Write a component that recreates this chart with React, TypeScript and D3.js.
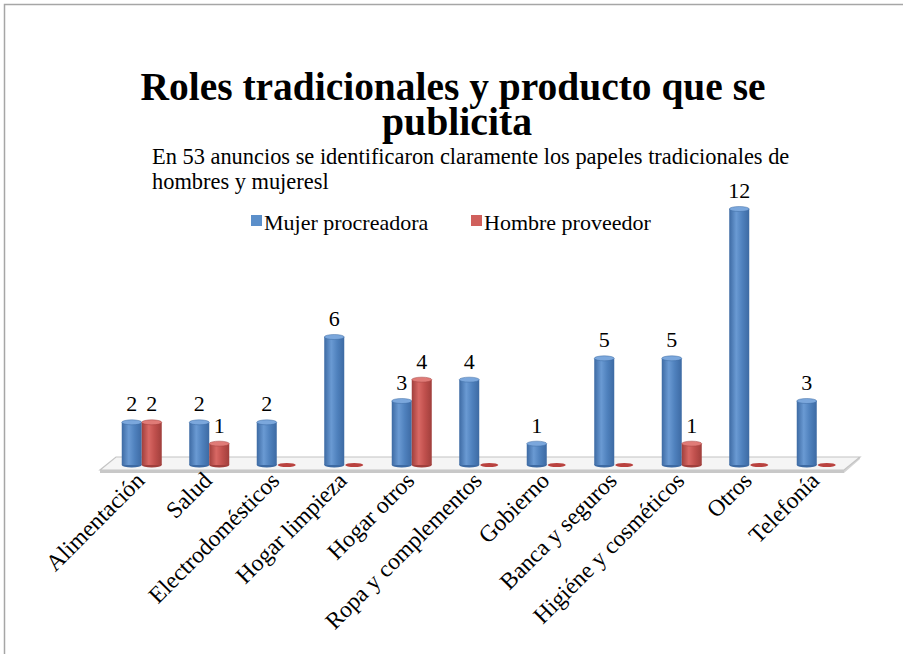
import React from 'react';
import * as d3 from 'd3';

const categories = [
  'Alimentación',
  'Salud',
  'Electrodomésticos',
  'Hogar limpieza',
  'Hogar otros',
  'Ropa y complementos',
  'Gobierno',
  'Banca y seguros',
  'Higiéne y cosméticos',
  'Otros',
  'Telefonía',
];
const mujerProcreadora = [2, 2, 2, 6, 3, 4, 1, 5, 5, 12, 3];
const hombreProveedor = [2, 1, 0, 0, 4, 0, 0, 0, 1, 0, 0];
const seriesNames = ['Mujer procreadora', 'Hombre proveedor'];

const titleLines = ['Roles tradicionales y producto que se', 'publicita'];
const subtitleLines = [
  'En 53 anuncios se identificaron claramente los papeles tradicionales de',
  'hombres y mujeresl',
];

const W = 903;
const H = 654;
const FONT = '"Liberation Serif", "Times New Roman", serif';

const App = () => {
  const x = d3.scaleBand<string>().domain(categories).range([108, 850.5]).paddingInner(0);
  const inner = d3.scaleBand<number>().domain([0, 1]).range([13.75, 53.75]);
  const y = d3.scaleLinear().domain([0, 12]).range([465, 209]);

  const series = [mujerProcreadora, hombreProveedor];
  const colors = [
    { dark: '#3d6aa3', mid: '#4f81bd', light: '#6a9ad3', top: '#7ba7dc', legend: '#5b8fca' },
    { dark: '#a03f3c', mid: '#c0504d', light: '#d86864', top: '#e07b77', legend: '#d0605c' },
  ];

  const floorBackY = 457;
  const floorFrontY = 470;

  return (
    <svg width={W} height={H} style={{ position: 'absolute', left: 0, top: 0, background: '#fff' }}>
      <defs>
        {colors.map((c, i) => (
          <linearGradient key={i} id={`grad${i}`} x1="0" x2="1" y1="0" y2="0">
            <stop offset="0%" stopColor={c.dark} />
            <stop offset="35%" stopColor={c.light} />
            <stop offset="65%" stopColor={c.mid} />
            <stop offset="100%" stopColor={c.dark} />
          </linearGradient>
        ))}
      </defs>

      <rect x={0} y={0} width={W} height={H} fill="#fff" />
      <path d={`M4.5,${H + 5} V4.5 H${W + 5}`} fill="none" stroke="#a6a6a6" strokeWidth={1.5} />

      {/* title */}
      <g fontFamily={FONT} fontWeight="bold" fill="#000" textAnchor="middle">
        <text x={453} y={100} fontSize={41} textLength={625} lengthAdjust="spacingAndGlyphs">
          {titleLines[0]}
        </text>
        <text x={457} y={135} fontSize={41} textLength={150} lengthAdjust="spacingAndGlyphs">
          {titleLines[1]}
        </text>
      </g>
      <g fontFamily={FONT} fontSize={22.4} fill="#000">
        <text x={152} y={164}>{subtitleLines[0]}</text>
        <text x={152} y={189}>{subtitleLines[1]}</text>
      </g>

      {/* legend */}
      <g fontFamily={FONT} fontSize={22} fill="#000">
        {seriesNames.map((name, i) => {
          const lx = i === 0 ? 251 : 471;
          return (
            <g key={name}>
              <rect x={lx} y={215} width={11} height={11} fill={colors[i].legend} />
              <text x={lx + 13} y={230}>{name}</text>
            </g>
          );
        })}
      </g>

      {/* floor */}
      <polygon
        points={`100,${floorFrontY + 3} 844,${floorFrontY + 3} 860,${floorBackY + 2} 860,${floorBackY}`}
        fill="#d4d4d4"
      />
      <polygon
        points={`116,${floorBackY} 860,${floorBackY} 844,${floorFrontY} 100,${floorFrontY}`}
        fill="#f5f5f5"
        stroke="#c4c4c4"
        strokeWidth={1.2}
      />
      <line x1={100} x2={844} y1={floorFrontY + 1.5} y2={floorFrontY + 1.5} stroke="#c8c8c8" strokeWidth={3} />

      {/* bars */}
      {categories.map((cat, ci) =>
        series.map((vals, si) => {
          const v = vals[ci];
          const bx = (x(cat) as number) + (inner(si) as number);
          const bw = inner.bandwidth();
          const cx = bx + bw / 2;
          const base = y(0);
          if (v === 0) {
            return (
              <ellipse key={`${cat}-${si}`} cx={cx} cy={base} rx={bw / 2 - 1} ry={2} fill="#b9423f" />
            );
          }
          const top = y(v);
          return (
            <g key={`${cat}-${si}`}>
              <ellipse cx={cx} cy={base} rx={bw / 2} ry={2.5} fill={colors[si].dark} />
              <rect x={bx} y={top} width={bw} height={base - top} fill={`url(#grad${si})`} />
              <ellipse cx={cx} cy={top} rx={bw / 2} ry={2.5} fill={colors[si].top} stroke={colors[si].dark} strokeWidth={0.5} />
              <text
                x={cx}
                y={top - 11}
                textAnchor="middle"
                fontFamily={FONT}
                fontSize={22}
                fill="#000"
              >
                {v}
              </text>
            </g>
          );
        })
      )}

      {/* category labels */}
      <g fontFamily={FONT} fontSize={23.5} fill="#000">
        {categories.map((cat) => {
          const cx = (x(cat) as number) + x.bandwidth() / 2 + 4;
          return (
            <text key={cat} transform={`translate(${cx},482) rotate(-45)`} textAnchor="end">
              {cat}
            </text>
          );
        })}
      </g>
    </svg>
  );
};

export default App;
